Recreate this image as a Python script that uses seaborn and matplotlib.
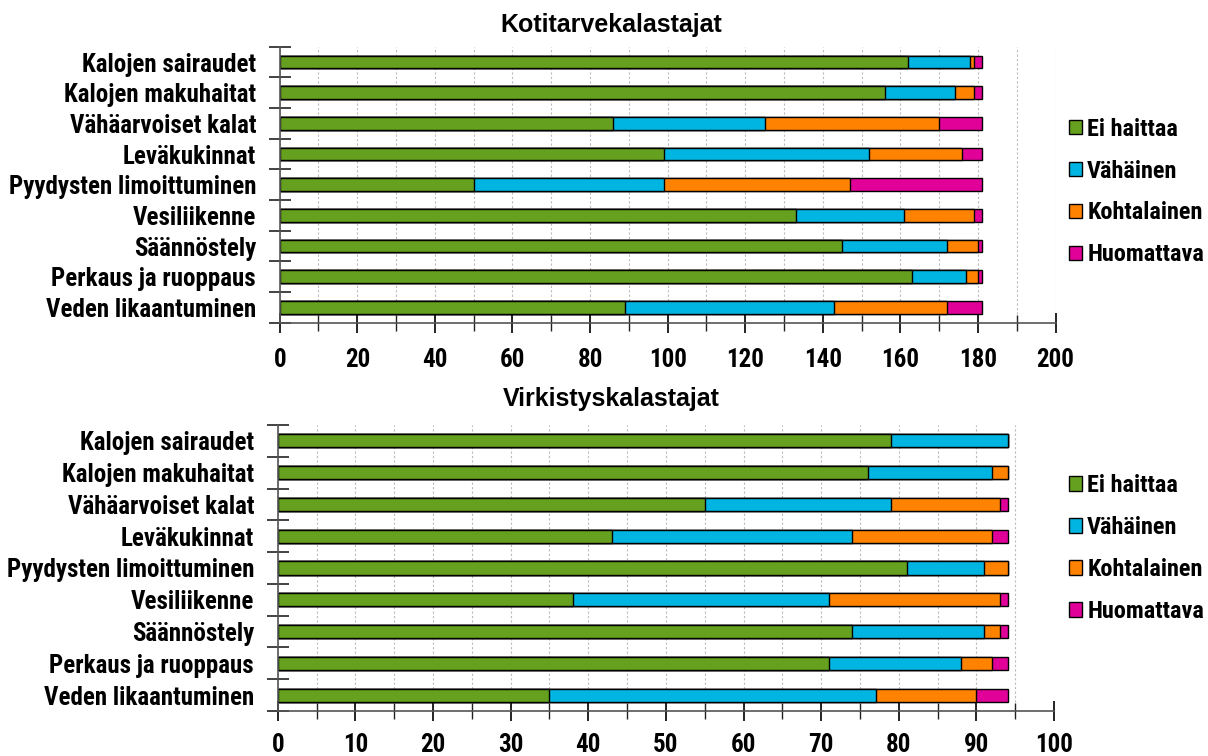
import numpy as np
import pandas as pd
import matplotlib
matplotlib.use("Agg")
import matplotlib.pyplot as plt
from matplotlib.patches import Patch
from matplotlib.ticker import MultipleLocator
import seaborn as sns

# Haitat (top-to-bottom order on the chart)
categories = [
    "Kalojen sairaudet",
    "Kalojen makuhaitat",
    "Vähäarvoiset kalat",
    "Leväkukinnat",
    "Pyydysten limoittuminen",
    "Vesiliikenne",
    "Säännöstely",
    "Perkaus ja ruoppaus",
    "Veden likaantuminen",
]
series_names = ["Ei haittaa", "Vähäinen", "Kohtalainen", "Huomattava"]
series_colors = ["#65A01E", "#00B5E2", "#FF8200", "#E10098"]

# Kotitarvekalastajat (vastaajien lukumäärä)
koti_ei = [162, 156, 86, 99, 50, 133, 145, 163, 89]
koti_vahainen = [16, 18, 39, 53, 49, 28, 27, 14, 54]
koti_kohtalainen = [1, 5, 45, 24, 48, 18, 8, 3, 29]
koti_huomattava = [2, 2, 11, 5, 34, 2, 1, 1, 9]

# Virkistyskalastajat (vastaajien lukumäärä)
virk_ei = [79, 76, 55, 43, 81, 38, 74, 71, 35]
virk_vahainen = [15, 16, 24, 31, 10, 33, 17, 17, 42]
virk_kohtalainen = [0, 2, 14, 18, 3, 22, 2, 4, 13]
virk_huomattava = [0, 0, 1, 2, 0, 1, 1, 2, 4]

sns.set_theme(style="white")
NARROW = ["Roboto Condensed", "PT Sans Narrow", "DejaVu Sans"]
plt.rcParams["font.family"] = NARROW
plt.rcParams["font.weight"] = "bold"
plt.rcParams["text.color"] = "black"
plt.rcParams["xtick.labelcolor"] = "black"
plt.rcParams["ytick.labelcolor"] = "black"

FS_Y = 18
FS_X = 18
FS_LEG = 17.5


def stacked_panel(ax, series, xmax, major, minor, xpad):
    df = pd.DataFrame({"kategoria": categories})
    cum = np.zeros(len(categories))
    cums = []
    for vals in series:
        cum = cum + np.array(vals)
        cums.append(cum.copy())
    # draw cumulative totals from the outermost segment inwards
    for name, color, c in reversed(list(zip(series_names, series_colors, cums))):
        df["arvo"] = c
        sns.barplot(data=df, y="kategoria", x="arvo", orient="h", color=color,
                    width=0.41, edgecolor="black", linewidth=1.0, saturation=1,
                    ax=ax)
    ax.set_xlim(0, xmax)
    ax.set_ylim(len(categories) - 0.5, -0.5)
    ax.set_xlabel("")
    ax.set_ylabel("")
    for s in ("top", "right"):
        ax.spines[s].set_visible(False)
    for s in ("left", "bottom"):
        ax.spines[s].set_color("#555555")
        ax.spines[s].set_linewidth(1.2)
    ax.xaxis.set_major_locator(MultipleLocator(major))
    ax.xaxis.set_minor_locator(MultipleLocator(minor))
    ax.grid(True, axis="x", which="both", color="#bbbbbb", linestyle=(0, (2, 2)), linewidth=0.8)
    ax.grid(False, axis="y")
    ax.set_axisbelow(True)
    ax.tick_params(axis="x", which="major", direction="inout", length=14, width=1.2,
                   color="black", labelsize=FS_X, labelcolor="black", pad=xpad, bottom=True)
    ax.tick_params(axis="x", which="minor", direction="inout", length=11, width=1.0,
                   color="#222222", bottom=True)
    for lab in ax.get_xticklabels():
        lab.set_fontweight("bold")
    ax.set_yticks(np.arange(-0.5, len(categories), 1), minor=True)
    ax.tick_params(axis="y", which="major", length=0, labelsize=FS_Y, labelcolor="black", pad=17)
    ax.tick_params(axis="y", which="minor", direction="inout", length=16, width=1.2,
                   color="#222222", left=True)
    for lab in ax.get_yticklabels():
        lab.set_fontweight("bold")


W, H = 1208, 756
fig = plt.figure(figsize=(W / 100, H / 100), dpi=100)

ax1 = fig.add_axes([279.7 / W, 1 - 322.7 / H, (1055.5 - 279.7) / W, (322.7 - 46.7) / H])
stacked_panel(ax1, [koti_ei, koti_vahainen, koti_kohtalainen, koti_huomattava], 200, 20, 10, 11)

ax2 = fig.add_axes([277.7 / W, 1 - 711 / H, (1054.1 - 277.7) / W, (711 - 425) / H])
stacked_panel(ax2, [virk_ei, virk_vahainen, virk_kohtalainen, virk_huomattava], 100, 10, 5, 9)

title_kw = dict(ha="center", va="baseline", fontsize=18, fontweight="bold", color="black",
                family=["Liberation Sans", "DejaVu Sans"])
fig.text(611.5 / W, 1 - 31.7 / H, "Kotitarvekalastajat", **title_kw)
fig.text(611 / W, 1 - 406 / H, "Virkistyskalastajat", **title_kw)

handles = [Patch(facecolor=c, edgecolor="black", linewidth=1.0) for c in series_colors]
for yc in (192, 548.5):
    fig.legend(handles, series_names, loc="center left",
               bbox_to_anchor=(1069 / W, 1 - yc / H), frameon=False, labelcolor="black",
               prop={"size": FS_LEG, "weight": "bold"}, handlelength=0.55, handleheight=0.55,
               handletextpad=0.2, labelspacing=0.78, borderpad=0, borderaxespad=0)

fig.savefig("out.png", dpi=100)
